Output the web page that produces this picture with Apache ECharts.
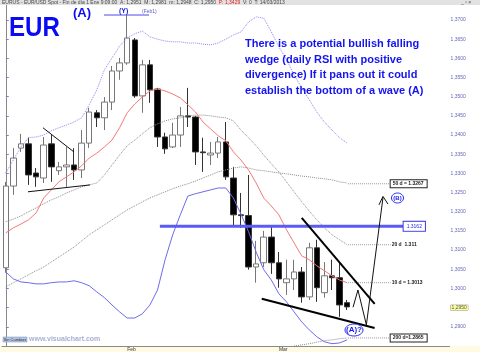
<!DOCTYPE html>
<html>
<head>
<meta charset="utf-8">
<script src="https://cdn.jsdelivr.net/npm/echarts@6/dist/echarts.min.js"></script>
<style>
html,body{margin:0;padding:0;background:#fff}
#main{width:480px;height:352px}
</style>
</head>
<body>
<div id="main"></div>
<script>
// sesiones diarias EUR/USD, 10 ene - 14 mar 2013, y huecos a la derecha para la proyeccion
var dates = ['10/01','11/01','14/01','15/01','16/01','17/01','18/01','21/01','22/01','23/01','24/01','25/01','28/01','29/01','30/01','31/01',
  '01/02','04/02','05/02','06/02','07/02','08/02','11/02','12/02','13/02','14/02','15/02','18/02','19/02','20/02','21/02','22/02','25/02','26/02','27/02','28/02',
  '01/03','04/03','05/03','06/03','07/03','08/03','11/03','12/03','13/03','14/03',
  '15/03','18/03','19/03','20/03','21/03','22/03','25/03','26/03','27/03','28/03','29/03','01/04','02/04'];
var monthLabels = {'01/02': 'Feb', '01/03': 'Mar'};

var opens  = [1.3054,1.3267,1.3366,1.3377,1.3301,1.3288,1.3377,1.3307,1.3317,1.3322,1.3309,1.3379,1.3458,1.3445,1.3486,1.3567,
  1.3588,1.3648,1.3502,1.3583,1.3520,1.3395,1.3369,1.3400,1.3450,1.3447,1.3356,1.3348,1.3353,1.3382,1.3288,1.3192,1.3190,1.3056,1.3067,1.3134,
  1.3067,1.3015,1.3025,1.3043,1.2978,1.3106,1.2989,1.3033,1.3028,1.2963];
var closes = [1.3267,1.3340,1.3377,1.3296,1.3291,1.3374,1.3317,1.3317,1.3322,1.3309,1.3379,1.3460,1.3445,1.3486,1.3567,1.3588,
  1.3653,1.3502,1.3583,1.3518,1.3395,1.3364,1.3400,1.3450,1.3447,1.3356,1.3354,1.3353,1.3382,1.3291,1.3192,1.3190,1.3056,1.3064,1.3134,1.3067,
  1.3025,1.3025,1.3043,1.2978,1.3106,1.3002,1.3033,1.3028,1.2957,1.2952];
var lows   = [1.3041,1.3244,1.3356,1.3270,1.3265,1.3275,1.3278,1.3296,1.3265,1.3283,1.3288,1.3366,1.3421,1.3413,1.3465,1.3544,
  1.3583,1.3497,1.3458,1.3484,1.3369,1.3351,1.3366,1.3369,1.3421,1.3322,1.3304,1.3322,1.3340,1.3283,1.3163,1.3158,1.3049,1.3015,1.3056,1.3038,
  1.3002,1.2983,1.2996,1.2963,1.2970,1.2965,1.2976,1.2996,1.2926,1.2944];
var highs  = [1.3278,1.3366,1.3403,1.3393,1.3314,1.3395,1.3400,1.3330,1.3369,1.3366,1.3413,1.3471,1.3465,1.3499,1.3580,1.3601,
  1.3713,1.3653,1.3596,1.3596,1.3523,1.3406,1.3432,1.3473,1.3523,1.3450,1.3393,1.3382,1.3395,1.3434,1.3317,1.3249,1.3296,1.3124,1.3150,1.3161,
  1.3095,1.3075,1.3075,1.3056,1.3119,1.3127,1.3069,1.3075,1.3067,1.2970];

// medias y bandas
var ma10 = [1.3145,1.3158,1.3168,1.3179,1.3197,1.3236,1.3257,1.3278,1.3291,1.3304,1.3320,1.3340,1.3353,1.3369,1.3387,1.3419,
  1.3458,1.3481,1.3499,1.3515,1.3520,1.3515,1.3507,1.3497,1.3479,1.3460,1.3434,1.3416,1.3398,1.3385,1.3356,1.3335,1.3309,1.3275,1.3236,1.3215,
  1.3192,1.3153,1.3119,1.3085,1.3075,1.3059,1.3046,1.3033,1.3022,1.3015];
var ma20 = [1.3174,1.3181,1.3189,1.3200,1.3210,1.3221,1.3231,1.3239,1.3249,1.3257,1.3265,1.3270,1.3275,1.3296,1.3322,1.3348,
  1.3372,1.3387,1.3403,1.3419,1.3429,1.3437,1.3442,1.3445,1.3450,1.3452,1.3452,1.3450,1.3447,1.3445,1.3437,1.3413,1.3393,1.3372,1.3348,1.3325,
  1.3304,1.3278,1.3252,1.3226,1.3202,1.3179,1.3158,1.3140,1.3127,1.3114];
var ma50 = [1.3004,1.3015,1.3025,1.3036,1.3046,1.3056,1.3069,1.3082,1.3095,1.3108,1.3124,1.3140,1.3153,1.3166,1.3179,1.3192,
  1.3205,1.3215,1.3226,1.3236,1.3244,1.3252,1.3260,1.3267,1.3273,1.3280,1.3288,1.3296,1.3304,1.3309,1.3314,1.3317,1.3314,1.3309,1.3307,1.3304,
  1.3301,1.3299,1.3296,1.3293,1.3291,1.3288,1.3286,1.3283,1.3278,1.3275];
var ma200 = ['-','-','-','-','-','-','-','-','-','-','-','-','-','-','-','-',
  '-','-','-','-','-','-','-','-','-','-','-','-','-','-','-','-','-','-','-','-',
  '-','-',1.2850,1.2853,1.2856,1.2860,1.2864,1.2866,1.2869,1.2871];
var bandUp = [1.3301,1.3335,1.3369,1.3393,1.3395,1.3400,1.3411,1.3419,1.3426,1.3434,1.3445,1.3479,1.3518,1.3570,1.3601,1.3632,
  1.3653,1.3664,1.3671,1.3656,1.3650,1.3645,1.3643,1.3643,1.3640,1.3640,1.3637,1.3635,1.3640,1.3650,1.3661,1.3669,1.3695,1.3708,1.3705,1.3669,
  1.3630,1.3596,1.3557,1.3523,1.3492,1.3460,1.3434,1.3413,1.3393,1.3379];
var bandLow = [1.3043,1.3025,1.3017,1.3015,1.3012,1.3012,1.3015,1.3017,1.3017,1.3020,1.3015,1.3007,1.2991,1.2976,1.2957,1.2939,
  1.2923,1.2923,1.2934,1.2957,1.2996,1.3075,1.3140,1.3192,1.3241,1.3247,1.3252,1.3257,1.3262,1.3262,1.3236,1.3194,1.3148,1.3095,1.3049,1.3022,
  1.2986,1.2965,1.2939,1.2913,1.2892,1.2874,1.2861,1.2856,1.2858,1.2866];

// niveles y etiquetas de la derecha
var maLevels = [1.3273, 1.3114, 1.3015, 1.2871];
var maTexts = ['50 d = 1.3267', '20 d  1.311', '10 d = 1.3013', '200 d=1.2865'];
var level = 1.3162;
var lastPrice = 1.2950;

// trazos del analisis: [indice de sesion, precio]
var wedgeTop = [[39.01, 1.3184], [48.62, 1.2960]];
var wedgeBottom = [[33.74, 1.2973], [48.62, 1.2897]];
var smallTop = [[4.90, 1.3419], [8.98, 1.3356]];
var smallBottom = [[2.92, 1.3252], [11.09, 1.3270]];
var projection = [[45.77, 1.2951], [46.42, 1.2996], [47.53, 1.2905], [49.72, 1.3237]];
var arrowHead = [[49.19, 1.3218], [49.72, 1.3240], [50.38, 1.3220]];

var myChart = echarts.init(document.getElementById('main'));

var candles = [];
for (var i = 0; i < opens.length; i++) {
  candles.push([opens[i], closes[i], lows[i], highs[i]]);
}

function plainLine(data, color, width, type) {
  return {
    type: 'line', xAxisIndex: 1, data: data, symbol: 'none', silent: true,
    lineStyle: {color: color, width: width, type: type || 'solid'}, z: 5
  };
}

function maLine(data, color, type) {
  return {
    type: 'line', xAxisIndex: 0, data: data, symbol: 'none', silent: true,
    lineStyle: {color: color, width: 1, type: type}, z: 3
  };
}

var labelSeries = [];
for (var k = 0; k < maLevels.length; k++) {
  var boxed = (k === 0 || k === 3);
  labelSeries.push({
    type: 'line', xAxisIndex: 1, symbol: 'none', silent: true, z: 4,
    data: [[45.1, maLevels[k]], [50.73, maLevels[k]]],
    lineStyle: {color: '#999', width: 1, type: 'dotted'},
    endLabel: {
      show: true, formatter: maTexts[k], distance: 0, offset: [0, 0],
      fontSize: 5, color: '#222', fontWeight: 'bold',
      backgroundColor: boxed ? '#fff' : 'transparent',
      borderColor: boxed ? '#222' : 'transparent', borderWidth: boxed ? 1 : 0,
      padding: boxed ? [1, 3, 1, 2] : [0, 1]
    }
  });
}

option = {
  animation: false,
  backgroundColor: '#fff',
  textStyle: {fontFamily: 'Liberation Sans'},
  grid: {left: 2, right: 30.4, top: 0.8, bottom: 5.8},
  xAxis: [{
    type: 'category', data: dates, boundaryGap: true,
    axisLine: {lineStyle: {color: '#8a8a8a'}},
    axisTick: {
      alignWithLabel: true, length: 3, lineStyle: {color: '#666'},
      interval: function (idx, val) { return !!monthLabels[val]; }
    },
    axisLabel: {
      interval: function (idx, val) { return !!monthLabels[val]; },
      formatter: function (val) { return monthLabels[val] || ''; },
      align: 'left', margin: 1, fontSize: 5, color: '#333'
    },
    splitLine: {show: false}
  }, {
    type: 'value', min: -0.5, max: 58.5, show: false
  }],
  yAxis: {
    type: 'value', position: 'right', min: 1.285, max: 1.375, interval: 0.005,
    splitLine: {show: false},
    axisLine: {show: true, lineStyle: {color: '#8a8a8a'}},
    axisTick: {show: true, length: 3, lineStyle: {color: '#8080c0'}},
    axisLabel: {
      showMinLabel: false, showMaxLabel: false, margin: 1, fontSize: 5, color: '#6666b8',
      formatter: function (v) {
        var s = v.toFixed(4).replace('.', ',');
        return Math.abs(v - lastPrice) < 1e-7 ? '{hl|' + s + '}' : s;
      },
      rich: {hl: {backgroundColor: '#ffff9a', borderColor: '#999', borderWidth: 0.5, padding: [0, 1], fontSize: 5, color: '#555'}}
    }
  },
  series: [
    {
      type: 'candlestick', data: candles, barWidth: 6, silent: true, z: 2,
      itemStyle: {color: '#fff', color0: '#000', borderColor: '#777', borderColor0: '#333', borderWidth: 1}
    },
    maLine(bandUp, '#8a8aee', 'dotted'),
    maLine(bandLow, '#6c6cea', 'solid'),
    maLine(ma50, '#8c8c8c', 'dotted'),
    maLine(ma20, '#8c8c8c', 'dotted'),
    maLine(ma200, '#8c8c8c', 'dotted'),
    maLine(ma10, '#f27a7a', 'solid'),
    {
      type: 'line', xAxisIndex: 1, symbol: 'none', silent: true, z: 4,
      data: [[20.31, level], [52.44, level]],
      lineStyle: {color: '#5a5af5', width: 3},
      endLabel: {
        show: true, formatter: '1.3162', distance: 0, fontSize: 5, color: '#2a2ae0',
        backgroundColor: '#fff', borderColor: '#3a3ae8', borderWidth: 1, padding: [2, 3]
      }
    },
    plainLine(wedgeTop, '#000', 2),
    plainLine(wedgeBottom, '#000', 2),
    plainLine(smallTop, '#111', 1),
    plainLine(smallBottom, '#111', 1),
    plainLine(projection, '#111', 1),
    plainLine(arrowHead, '#111', 1)
  ].concat(labelSeries),
  graphic: [
    {type: 'rect', z: -10, shape: {x: 0, y: 346, width: 480, height: 6}, style: {fill: '#fffbe2'}},
    {type: 'rect', z: 10, shape: {x: 0, y: 0, width: 480, height: 5}, style: {fill: '#e2e2e2'}},
    {type: 'text', z: 11, style: {
      x: 2, y: 2.6, textVerticalAlign: 'middle',
      text: '{a|EURUS - EUR/USD Spot - Fin de día 1 Ene 9:09:00  A: 1,2951  M: 1,2981  m: 1,2948  C: 1,2950  }{p|P: 1,3429}{a|  V: 0  T: 14/03/2013}',
      rich: {a: {fontSize: 5, fill: '#444'}, p: {fontSize: 5, fill: '#e02020'}}
    }},
    {type: 'text', z: 11, style: {x: 461, y: 2.6, textVerticalAlign: 'middle', text: '_ ▫ ×', fontSize: 5, fill: '#444'}},
    {type: 'text', z: 11, x: 9, y: 28, scaleX: 0.86, style: {
      x: 0, y: 0, text: 'EUR', textVerticalAlign: 'middle',
      font: 'bold 28px "Liberation Sans"', fill: '#0a0af5'
    }},
    {type: 'text', z: 11, style: {x: 73, y: 13, text: '(A)', textVerticalAlign: 'middle', font: 'bold 13px "Liberation Sans"', fill: '#0a0af5'}},
    {type: 'text', z: 11, style: {x: 119, y: 11, text: '(Y)', textVerticalAlign: 'middle', font: 'bold 7px "Liberation Sans"', fill: '#1a1ae8'}},
    {type: 'line', z: 11, shape: {x1: 104, y1: 15, x2: 149, y2: 15}, style: {stroke: '#4a4ae8', lineWidth: 1}},
    {type: 'text', z: 11, style: {x: 142, y: 12, text: '(Feb1)', textVerticalAlign: 'middle', font: '5px "Liberation Sans"', fill: '#5a5ad0'}},
    {type: 'text', z: 11, style: {
      x: 245, y: 36.5, lineHeight: 15.5,
      text: 'There is a potential bullish falling\nwedge (daily RSI with positive\ndivergence) If it pans out it could\nestablish the bottom of a wave (A)',
      font: 'bold 11px "Liberation Sans"', fill: '#1414f0'
    }},
    {type: 'ellipse', z: 11, shape: {cx: 397.5, cy: 198, rx: 6, ry: 5}, style: {fill: '#fff', stroke: '#2a2af0', lineWidth: 1}},
    {type: 'text', z: 12, style: {x: 397.5, y: 198, text: '(B)', textAlign: 'center', textVerticalAlign: 'middle', font: 'bold 6px "Liberation Sans"', fill: '#1a1ae8'}},
    {type: 'ellipse', z: 11, shape: {cx: 354, cy: 330, rx: 9, ry: 6}, style: {fill: '#fff', stroke: '#2a2af0', lineWidth: 1}},
    {type: 'text', z: 12, style: {x: 354, y: 330, text: '(A)?', textAlign: 'center', textVerticalAlign: 'middle', font: 'bold 8px "Liberation Sans"', fill: '#1a1ae8'}},
    {type: 'rect', z: 11, shape: {x: 3, y: 337, width: 24, height: 5}, style: {fill: '#b4c8e4', stroke: '#7a8fb0', lineWidth: 0.5}},
    {type: 'text', z: 12, style: {x: 15, y: 339.6, text: 'Sin Cambios', textAlign: 'center', textVerticalAlign: 'middle', font: '4px "Liberation Sans"', fill: '#334'}},
    {type: 'text', z: 11, style: {x: 29, y: 339.5, text: 'www.visualchart.com', textVerticalAlign: 'middle', font: 'bold 7px "Liberation Sans"', fill: '#a8b0d4'}}
  ]
};

myChart.setOption(option, true);
</script>
</body>
</html>
